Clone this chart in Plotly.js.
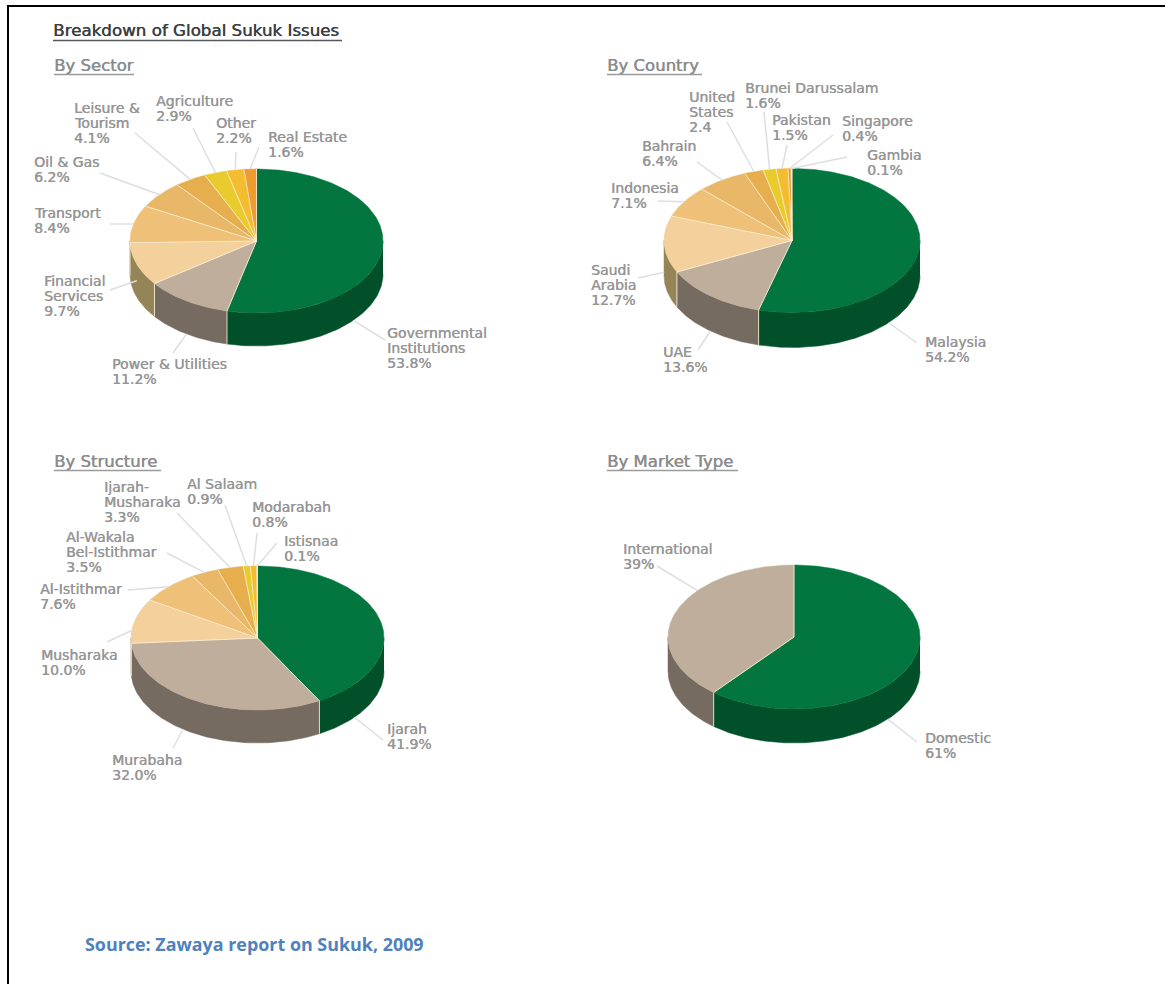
<!DOCTYPE html>
<html>
<head>
<meta charset="utf-8">
<title>Breakdown of Global Sukuk Issues</title>
<script src="https://cdn.plot.ly/plotly-3.0.1.min.js"></script>
<style>html,body{margin:0;padding:0;background:#fff}</style>
</head>
<body>
<div id="chart"></div>
<script>
// Issue shares, in percent
const sectorNames = ['Governmental\nInstitutions', 'Power & Utilities', 'Financial\nServices', 'Transport', 'Oil & Gas', 'Leisure &\nTourism', 'Agriculture', 'Other', 'Real Estate'];
const sectorValues = [53.8, 11.2, 9.7, 8.4, 6.2, 4.1, 2.9, 2.2, 1.6];

const countryNames = ['Malaysia', 'UAE', 'Saudi\nArabia', 'Indonesia', 'Bahrain', 'United\nStates', 'Brunei Darussalam', 'Pakistan', 'Singapore', 'Gambia'];
const countryValues = [54.2, 13.6, 12.7, 7.1, 6.4, 2.4, 1.6, 1.5, 0.4, 0.1];

const structureNames = ['Ijarah', 'Murabaha', 'Musharaka', 'Al-Istithmar', 'Al-Wakala\nBel-Istithmar', 'Ijarah-\nMusharaka', 'Al Salaam', 'Modarabah', 'Istisnaa'];
const structureValues = [41.9, 32.0, 10.0, 7.6, 3.5, 3.3, 0.9, 0.8, 0.1];

const marketNames = ['Domestic', 'International'];
const marketValues = [61, 39];

// Top-face and wall colours, largest slice first
const topColors = ['#03763f', '#bfae9c', '#f3d09c', '#efc178', '#e8b868', '#e6ae4d', '#e8cc2d', '#f4bd30', '#ef9b30', '#f3cf8e'];
const wallColors = ['#02502a', '#766b60', '#968459', '#8f7b50', '#8a7445', '#86703f', '#8c7c20', '#927020', '#8f5c1c', '#90804f'];

const WIDTH = 1165, HEIGHT = 984;
const LABEL_LINE = 15;

// Placement of each pie on the page, in pixels
const panels = [
  {
    heading: 'By Sector', headingX: 54, headingY: 65.5, ruleEnd: 134,
    names: sectorNames, values: sectorValues, decimals: 1, plainValues: [],
    cx: 256.5, cy: 241, rx: 126.5, ry: 72, depth: 33,
    labelX: [387, 112, 44, 34, 34, 74, 156, 216, 268],
    labelY: [333, 364, 281, 213, 162, 108, 101, 123, 137],
    leaderEnd: [[385, 340], [173, 353], [110, 290], [110, 224], [100, 173], [135, 133], [193, 128], [236, 152], [259, 147]],
    attachDeg: [130, null, null, null, null, null, null, null, null],
    attachWall: [1, 1, 0.5, 0, 0, 0, 0, 0, 0]
  },
  {
    heading: 'By Country', headingX: 607, headingY: 65.5, ruleEnd: 702,
    names: countryNames, values: countryValues, decimals: 1, plainValues: ['United\nStates'],
    cx: 792, cy: 240.5, rx: 128, ry: 72, depth: 35,
    labelX: [925, 663, 591, 611, 642, 689, 745, 772, 842, 867],
    labelY: [342, 352, 270, 188, 146, 97, 88, 120, 121, 155],
    leaderEnd: [[917, 343], [698, 350], [638, 278], [658, 201], [697, 162], [727, 122], [764, 112], [787, 145], [833, 135], [847, 157]],
    attachDeg: [131, null, null, null, null, null, null, null, null, null],
    attachWall: [1, 1, 0.8, 0, 0, 0, 0, 0, 0, 0]
  },
  {
    heading: 'By Structure', headingX: 54, headingY: 461.5, ruleEnd: 161,
    names: structureNames, values: structureValues, decimals: 1, plainValues: [],
    cx: 257.5, cy: 638, rx: 126.5, ry: 72, depth: 33,
    labelX: [387, 112, 41, 40, 66, 104, 187, 252, 284],
    labelY: [729, 760, 655, 589, 537, 487, 484, 507, 541],
    leaderEnd: [[383, 740], [173, 748], [107, 642], [128, 590], [167, 553], [177, 513], [225, 505], [257, 533], [277, 543]],
    attachDeg: [130, 216, 276, null, null, null, null, null, null],
    attachWall: [1, 1, 0, 0, 0, 0, 0, 0, 0]
  },
  {
    heading: 'By Market Type', headingX: 607, headingY: 461.5, ruleEnd: 738,
    names: marketNames, values: marketValues, decimals: 0, plainValues: [],
    cx: 794, cy: 637, rx: 126, ry: 72, depth: 34,
    labelX: [925, 623],
    labelY: [738, 549],
    leaderEnd: [[917, 742], [657, 566]],
    attachDeg: [132, 310],
    attachWall: [1, 0]
  }
];

// Angles run clockwise from the top of the pie; the ellipse is the unit circle on stretched axes
const rimX = deg => Math.sin(deg * Math.PI / 180);
const rimY = deg => Math.cos(deg * Math.PI / 180);

function arc(a0, a1) {
  const out = [];
  const steps = Math.max(2, Math.ceil(Math.abs(a1 - a0)));
  for (let i = 0; i <= steps; i++) out.push(a0 + (a1 - a0) * i / steps);
  return out;
}

const traces = [];
const annotations = [];
const shapes = [];
const layoutAxes = {};

// Black frame along the top and the left of the page
shapes.push({ type: 'line', xref: 'paper', yref: 'paper', x0: 7 / WIDTH, x1: 1, y0: 1 - 6 / HEIGHT, y1: 1 - 6 / HEIGHT, line: { color: '#000', width: 2 } });
shapes.push({ type: 'line', xref: 'paper', yref: 'paper', x0: 8 / WIDTH, x1: 8 / WIDTH, y0: 0, y1: 1 - 5 / HEIGHT, line: { color: '#000', width: 2 } });
// Rule under the main heading
shapes.push({ type: 'line', xref: 'paper', yref: 'paper', x0: 53 / WIDTH, x1: 342 / WIDTH, y0: 1 - 40.5 / HEIGHT, y1: 1 - 40.5 / HEIGHT, line: { color: '#55585a', width: 1.5 } });

// A hairline offset copy of the glyphs gives the labels their heavier stroke
const labelFont = { family: 'DejaVu Sans, sans-serif', size: 14, color: '#969696', shadow: '0.4px 0 0 #969696' };
const headingFont = { family: 'DejaVu Sans, sans-serif', size: 16.5, color: '#8c8c8c', shadow: '0.5px 0 0 #8c8c8c' };

panels.forEach((p, idx) => {
  const suffix = idx === 0 ? '' : String(idx + 1);
  const xa = 'x' + suffix, ya = 'y' + suffix;

  // Each subplot covers a box round its pie; axis units are pie radii
  const box = { left: p.cx - 230, right: p.cx + 230, top: p.cy - 190, bottom: p.cy + 160 };
  layoutAxes['xaxis' + suffix] = {
    domain: [box.left / WIDTH, box.right / WIDTH],
    range: [(box.left - p.cx) / p.rx, (box.right - p.cx) / p.rx],
    visible: false, fixedrange: true, anchor: ya
  };
  layoutAxes['yaxis' + suffix] = {
    domain: [1 - box.bottom / HEIGHT, 1 - box.top / HEIGHT],
    range: [(p.cy - box.bottom) / p.ry, (p.cy - box.top) / p.ry],
    visible: false, fixedrange: true, anchor: xa
  };
  const drop = p.depth / p.ry;
  const toX = px => (px - p.cx) / p.rx;
  const toY = py => (p.cy - py) / p.ry;

  const total = p.values.reduce((a, b) => a + b, 0);
  let acc = 0;
  const spans = p.values.map(v => {
    const a0 = acc / total * 360;
    acc += v;
    return [a0, acc / total * 360];
  });
  const base = { mode: 'lines', xaxis: xa, yaxis: ya, showlegend: false };
  const seamColor = 'rgba(250,240,215,0.85)';

  // Walls: only the part of the rim facing the viewer
  const wallSeams = { x: [], y: [] };
  spans.forEach(([a0, a1], i) => {
    const s = Math.max(a0, 90), e = Math.min(a1, 270);
    if (e > s) {
      const angles = arc(s, e);
      const xs = angles.map(rimX), ys = angles.map(rimY);
      traces.push(Object.assign({}, base, {
        x: xs.concat(xs.slice().reverse()),
        y: ys.concat(ys.slice().reverse().map(v => v - drop)),
        fill: 'toself', fillcolor: wallColors[i],
        line: { color: wallColors[i], width: 0.5 }, hoverinfo: 'skip'
      }));
    }
    if (a1 > 90 && a1 < 270) {
      wallSeams.x.push(rimX(a1), rimX(a1), null);
      wallSeams.y.push(rimY(a1), rimY(a1) - drop, null);
    }
  });

  // Top faces
  const seams = { x: [], y: [] };
  spans.forEach(([a0, a1], i) => {
    const angles = arc(a0, a1);
    traces.push(Object.assign({}, base, {
      x: [0].concat(angles.map(rimX), [0]),
      y: [0].concat(angles.map(rimY), [0]),
      fill: 'toself', fillcolor: topColors[i],
      line: { color: topColors[i], width: 0.5 },
      name: p.names[i].replace('\n', ' '),
      text: p.values[i] + '%', hoverinfo: 'name+text'
    }));
    seams.x.push(0, rimX(a1), null);
    seams.y.push(0, rimY(a1), null);
  });
  traces.push(Object.assign({}, base, { x: seams.x, y: seams.y, line: { color: seamColor, width: 1 }, hoverinfo: 'skip' }));
  traces.push(Object.assign({}, base, { x: wallSeams.x, y: wallSeams.y, line: { color: seamColor, width: 1 }, hoverinfo: 'skip' }));

  // Leader lines run from each slice to its label
  p.values.forEach((v, i) => {
    const [a0, a1] = spans[i];
    const a = p.attachDeg[i] !== null ? p.attachDeg[i] : (a0 + a1) / 2;
    const [ex, ey] = p.leaderEnd[i];
    traces.push(Object.assign({}, base, {
      x: [rimX(a), toX(ex)],
      y: [rimY(a) - p.attachWall[i] * drop, toY(ey)],
      line: { color: '#dcdfe1', width: 1.5 }, hoverinfo: 'skip'
    }));
    const valueText = v.toFixed(p.decimals) + (p.plainValues.includes(p.names[i]) ? '' : '%');
    p.names[i].split('\n').concat([valueText]).forEach((line, k) => {
      annotations.push({
        text: line, showarrow: false, xref: 'paper', yref: 'paper',
        x: p.labelX[i] / WIDTH, y: 1 - (p.labelY[i] + k * LABEL_LINE) / HEIGHT,
        xanchor: 'left', yanchor: 'middle', xshift: -2, align: 'left', font: labelFont
      });
    });
  });

  // Panel heading with its rule
  annotations.push({
    text: p.heading, showarrow: false, xref: 'paper', yref: 'paper',
    x: p.headingX / WIDTH, y: 1 - p.headingY / HEIGHT, xanchor: 'left', yanchor: 'middle', xshift: -2,
    font: headingFont
  });
  shapes.push({
    type: 'line', xref: 'paper', yref: 'paper',
    x0: p.headingX / WIDTH, x1: p.ruleEnd / WIDTH,
    y0: 1 - (Math.floor(p.headingY) + 9.5) / HEIGHT, y1: 1 - (Math.floor(p.headingY) + 9.5) / HEIGHT,
    line: { color: '#9a9a9a', width: 1.5 }
  });
});

annotations.push({
  text: '<b>Source: Zawaya report on Sukuk, 2009</b>', showarrow: false, xref: 'paper', yref: 'paper',
  x: 84 / WIDTH, y: 1 - 944 / HEIGHT, xanchor: 'left', yanchor: 'middle', xshift: -1,
  font: { family: 'Open Sans, sans-serif', size: 17.9, color: '#4f81bd' }
});

const layout = Object.assign({
  width: WIDTH, height: HEIGHT,
  margin: { l: 0, r: 0, t: 0, b: 0 },
  paper_bgcolor: '#fff', plot_bgcolor: 'rgba(0,0,0,0)',
  showlegend: false, hovermode: 'closest',
  title: {
    text: 'Breakdown of Global Sukuk Issues',
    x: 53 / WIDTH, xanchor: 'left', xref: 'paper',
    y: 1 - 30 / HEIGHT, yanchor: 'middle', yref: 'container',
    font: { family: 'DejaVu Sans, sans-serif', size: 16.7, color: '#3c3f41', shadow: '0.5px 0 0 #3c3f41' }
  },
  annotations: annotations, shapes: shapes
}, layoutAxes);

Plotly.newPlot('chart', traces, layout, { displayModeBar: false, responsive: false });
</script>
</body>
</html>
